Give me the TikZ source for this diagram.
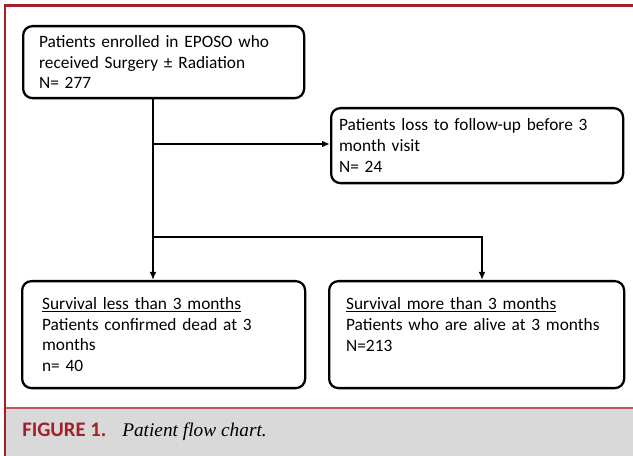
\documentclass[tikz,border=0pt]{standalone}
\usepackage{fontspec}
\setmainfont{Carlito}
\newfontfamily\capserif{Liberation Serif}
\usetikzlibrary{arrows.meta}
\definecolor{framered}{HTML}{A31F2A}
\definecolor{linered}{HTML}{C0585A}
\definecolor{capgray}{HTML}{D9D9D9}
\tikzset{
  flowbox/.style={draw=black, line width=1.7pt, rounded corners=7pt, align=left,
    anchor=north west, inner ysep=0pt, font=\fontsize{13}{15.6}\selectfont},
  conn/.style={line width=1.5pt, black},
  arr/.style={conn, -{Latex[length=6pt,width=5pt]}}
}
\begin{document}
\begin{tikzpicture}[x=0.75pt,y=-0.75pt]
\useasboundingbox (0,0) rectangle (633,456);
% frame and caption band
\fill[capgray] (6,408) rectangle (633,456);
\draw[linered, line width=0.9pt] (6,408) -- (633,408);
\draw[framered, line width=2.2pt] (5,4) -- (5,456);
\draw[framered, line width=2.4pt] (4,5.5) -- (633,5.5);
% boxes
\node[flowbox, text width=186.75pt, inner xsep=12pt, minimum height=54pt] (b1) at (22,25)
  {Patients enrolled in EPOSO who\\ received Surgery ± Radiation\\ N= 277};
\node[flowbox, text width=207pt, inner xsep=6pt, minimum height=56.25pt] (b2) at (330,107)
  {Patients loss to follow-up before 3\\ month visit\\ N= 24};
\node[flowbox, text width=182.25pt, inner xsep=15pt, minimum height=80.25pt] (b3) at (21,280)
  {\underline{Survival less than 3 months}\\ Patients confirmed dead at 3\\ months\\ n= 40};
\node[flowbox, text width=195.75pt, inner xsep=12.75pt, minimum height=80.25pt] (b4) at (328,280)
  {\underline{Survival more than 3 months}\\ Patients who are alive at 3 months\\ N=213\\ \mbox{}};
% connectors
\coordinate (j1) at (153,144);
\coordinate (j2) at (153,237);
\coordinate (j3) at (482,237);
\draw[arr] (b1.south -| j1) -- (b3.north -| j1);
\draw[arr] (j1) -- (j1 -| b2.west);
\draw[arr] (j2) -- (j3) -- (j3 |- b4.north);
% caption
\node[anchor=base west, inner sep=0pt, text=framered, font=\fontsize{15.5}{17}\selectfont\bfseries] (cap1) at (22,437) {FIGURE 1.};
\node[anchor=base west, inner sep=0pt, font=\capserif\fontsize{14.5}{16}\selectfont\itshape] (cap2) at (122,437) {Patient flow chart.};
\end{tikzpicture}
\end{document}
